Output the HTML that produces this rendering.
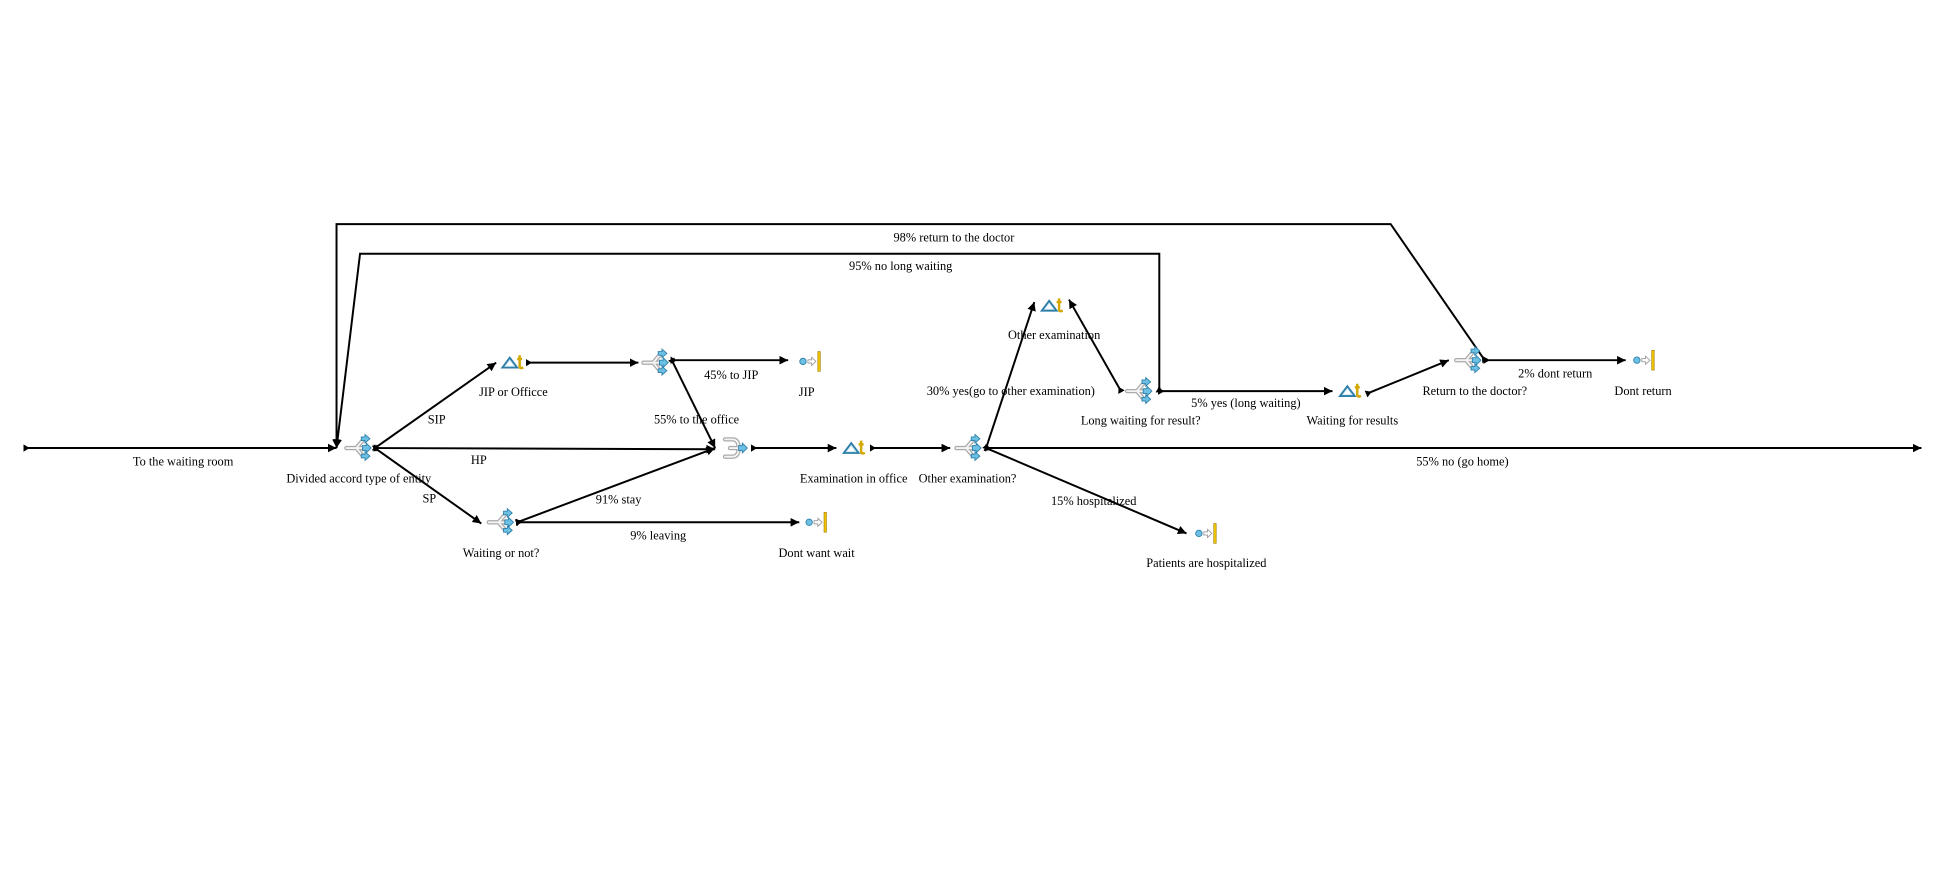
<!DOCTYPE html>
<html><head><meta charset="utf-8"><style>
html,body{margin:0;padding:0;background:#fff;width:1940px;height:880px;overflow:hidden}
svg{display:block}
text{font-family:"Liberation Serif",serif;font-size:10px;fill:#000;text-anchor:middle}
</style></head><body>
<svg width="1940" height="880" viewBox="0 0 1568 711" xmlns="http://www.w3.org/2000/svg">
<defs>
<marker id="a" markerWidth="8" markerHeight="8" refX="7" refY="4" orient="auto" markerUnits="userSpaceOnUse"><path d="M0,0.5 L7,4 L0,7.5z" fill="#000"/></marker>
<marker id="s" markerWidth="8" markerHeight="8" refX="1" refY="4" orient="auto" markerUnits="userSpaceOnUse"><path d="M0,1 L5,4 L0,7z" fill="#000"/></marker>
<g id="dec">
<path d="M-9,0 H-1 M-1,0 L4,-6 M-1,0 L4,6 M-1,0 H4" stroke="#aaa" stroke-width="3.5" fill="none" stroke-linecap="round"/>
<path d="M-9,0 H-1 M-1,0 L4,-6 M-1,0 L4,6 M-1,0 H4" stroke="#f4f4f4" stroke-width="1.5" fill="none" stroke-linecap="round"/>
<path d="M3,-9 h3 v-2 l4,3.5 l-4,3.5 v-2 h-3z" fill="#6cc0e4" stroke="#2c7ea8" stroke-width="0.7"/>
<path d="M4,-2 h3 v-2 l4,4 l-4,4 v-2 h-3z" fill="#6cc0e4" stroke="#2c7ea8" stroke-width="0.7"/>
<path d="M3,5 h3 v-2 l4,3.5 l-4,3.5 v-2 h-3z" fill="#6cc0e4" stroke="#2c7ea8" stroke-width="0.7"/>
</g>
<g id="act">
<path d="M-9,4 L-3,-4 L3,4z" fill="#cfe9f5" stroke="#2c7ea8" stroke-width="1.5"/>
<path d="M-6,2.5 L-3,-1.5 L0,2.5z" fill="#fff"/>
<path d="M5,-6 v9 q0,2 3,1 M3,-3 h4" stroke="#d4a800" stroke-width="2" fill="none"/>
</g>
<g id="ext">
<circle cx="-6" cy="0" r="2.6" fill="#6cc0e4" stroke="#2c7ea8" stroke-width="0.7"/>
<path d="M-2,-1.3 h3 v-2 l3.5,3.3 l-3.5,3.3 v-2 h-3z" fill="#fff" stroke="#999" stroke-width="0.7"/>
<rect x="6" y="-8" width="2" height="16" fill="#f2c200" stroke="#a08000" stroke-width="0.5"/>
</g>
<g id="mrg">
<path d="M-8,-7 H-2 Q3,-7 3,0 Q3,7 -2,7 H-8 M-4,0 H4" stroke="#aaa" stroke-width="3.5" fill="none" stroke-linecap="round"/>
<path d="M-8,-7 H-2 Q3,-7 3,0 Q3,7 -2,7 H-8 M-4,0 H4" stroke="#f4f4f4" stroke-width="1.5" fill="none" stroke-linecap="round"/>
<path d="M3,-2 h3 v-2 l4,4 l-4,4 v-2 h-3z" fill="#6cc0e4" stroke="#2c7ea8" stroke-width="0.7"/>
</g>
</defs>
<g stroke="#000" stroke-width="1.6" fill="none" marker-end="url(#a)" marker-start="url(#s)">
<path d="M20,362 H272"/>
<path d="M1200,291 L1124,181 H272 V362"/>
<path d="M937,316 V205 H291 L272,362"/>
<path d="M303,362 L401,293"/>
<path d="M426,293 H516"/>
<path d="M543,291 H637"/>
<path d="M543,291 L578,362"/>
<path d="M303,362 L578,363"/>
<path d="M303,362 L389,423"/>
<path d="M418,422 L578,362"/>
<path d="M418,422 H646"/>
<path d="M608,362 H676"/>
<path d="M704,362 H768"/>
<path d="M797,362 L836,244"/>
<path d="M906,316 L864,242"/>
<path d="M937,316 H1077"/>
<path d="M1105,318 L1171,291"/>
<path d="M1200,291 H1314"/>
<path d="M797,362 L959,431"/>
<path d="M797,362 H1553"/>
</g>
<use href="#dec" x="289" y="362"/>
<use href="#act" x="415" y="293"/>
<use href="#dec" x="529" y="293"/>
<use href="#ext" x="655" y="292"/>
<use href="#dec" x="404" y="422"/>
<use href="#ext" x="660" y="422"/>
<use href="#mrg" x="594" y="362"/>
<use href="#act" x="691" y="362"/>
<use href="#dec" x="782" y="362"/>
<use href="#act" x="851" y="247"/>
<use href="#dec" x="920" y="316"/>
<use href="#act" x="1092" y="316"/>
<use href="#dec" x="1186" y="291"/>
<use href="#ext" x="1329" y="291"/>
<use href="#ext" x="975" y="431"/>
<text x="148" y="376">To the waiting room</text>
<text x="290" y="390">Divided accord type of entity</text>
<text x="771" y="195">98% return to the doctor</text>
<text x="728" y="218">95% no long waiting</text>
<text x="353" y="342">SIP</text>
<text x="415" y="320">JIP or Officce</text>
<text x="591" y="306">45% to JIP</text>
<text x="652" y="320">JIP</text>
<text x="563" y="342">55% to the office</text>
<text x="387" y="375">HP</text>
<text x="347" y="406">SP</text>
<text x="405" y="450">Waiting or not?</text>
<text x="500" y="407">91% stay</text>
<text x="532" y="436">9% leaving</text>
<text x="660" y="450">Dont want wait</text>
<text x="690" y="390">Examination in office</text>
<text x="782" y="390">Other examination?</text>
<text x="817" y="319">30% yes(go to other examination)</text>
<text x="852" y="274">Other examination</text>
<text x="922" y="343">Long waiting for result?</text>
<text x="1007" y="329">5% yes (long waiting)</text>
<text x="1093" y="343">Waiting for results</text>
<text x="1192" y="319">Return to the doctor?</text>
<text x="1257" y="305">2% dont return</text>
<text x="1328" y="319">Dont return</text>
<text x="884" y="408">15% hospitalized</text>
<text x="975" y="458">Patients are hospitalized</text>
<text x="1182" y="376">55% no (go home)</text>
</svg>
</body></html>
